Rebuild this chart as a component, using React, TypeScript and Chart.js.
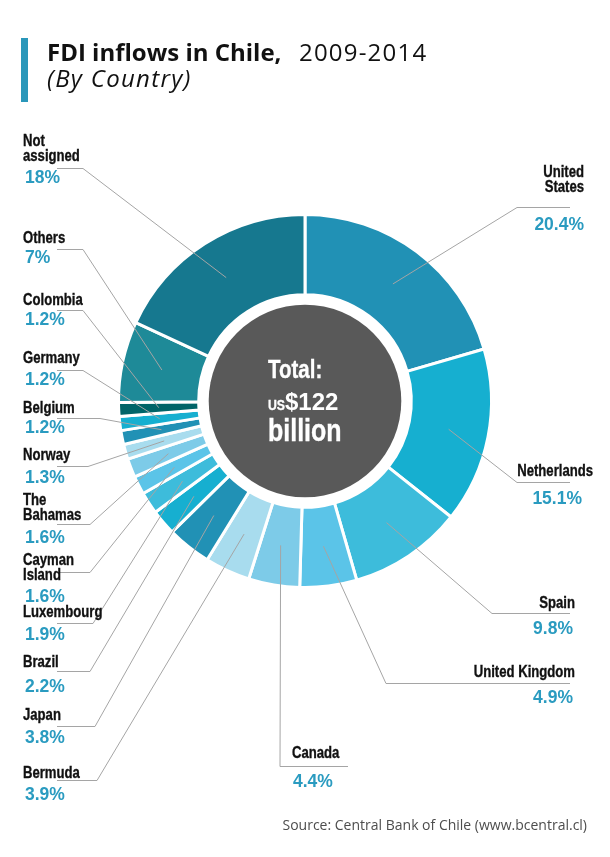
import React, { useEffect, useRef } from "react";
import { Chart, registerables } from "chart.js";

Chart.register(...registerables);

// ---------- data ----------
const countries = [
  "United States", "Netherlands", "Spain", "United Kingdom", "Canada", "Bermuda",
  "Japan", "Brazil", "Luxembourg", "Cayman Island", "The Bahamas", "Norway",
  "Belgium", "Germany", "Colombia", "Others", "Not assigned",
];
const shares = [20.4, 15.1, 9.8, 4.9, 4.4, 3.9, 3.8, 2.2, 1.9, 1.6, 1.6, 1.3, 1.2, 1.2, 1.2, 7, 18];
const nameLines: string[][] = [
  ["United", "States"], ["Netherlands"], ["Spain"], ["United Kingdom"], ["Canada"], ["Bermuda"],
  ["Japan"], ["Brazil"], ["Luxembourg"], ["Cayman", "Island"], ["The", "Bahamas"], ["Norway"],
  ["Belgium"], ["Germany"], ["Colombia"], ["Others"], ["Not", "assigned"],
];
const sliceColors = [
  "#2191b5", "#16afd0", "#3dbcdb", "#5bc4e8", "#7dcbe8", "#a8dcee",
  "#2191b5", "#16afd0", "#3dbcdb", "#5bc4e8", "#7dcbe8", "#a8dcee",
  "#2191b5", "#16afd0", "#006468", "#1e8a98", "#16788f",
];
const titleBold = "FDI inflows in Chile,";
const titleYears = "2009-2014";
const subtitle = "(By Country)";
const totalLabel = "Total:";
const totalCurrency = "US";
const totalAmount = "$122";
const totalUnit = "billion";
const sourceText = "Source: Central Bank of Chile (www.bcentral.cl)";

// ---------- label layout (positions only) ----------
type Lay = { side: "l" | "r" | "c"; tx: number; px: number; nb: number; pb: number; ly: number; lx: number; ex: number };
const layout: Lay[] = [
  { side: "r", tx: 584, px: 584, nb: 177, pb: 230, ly: 207, lx: 570, ex: 517 },
  { side: "r", tx: 593, px: 582, nb: 476, pb: 504, ly: 482, lx: 570, ex: 517 },
  { side: "r", tx: 575, px: 573, nb: 608, pb: 634, ly: 613, lx: 570, ex: 492 },
  { side: "r", tx: 575, px: 573, nb: 677, pb: 703, ly: 683, lx: 570, ex: 386 },
  { side: "c", tx: 292, px: 293, nb: 758, pb: 787, ly: 766, lx: 348, ex: 280 },
  { side: "l", tx: 23, px: 25, nb: 778, pb: 800, ly: 780, lx: 57, ex: 97 },
  { side: "l", tx: 23, px: 25, nb: 720, pb: 743, ly: 726, lx: 57, ex: 95 },
  { side: "l", tx: 23, px: 25, nb: 667, pb: 692, ly: 671, lx: 57, ex: 90 },
  { side: "l", tx: 23, px: 25, nb: 617, pb: 640, ly: 623, lx: 57, ex: 93 },
  { side: "l", tx: 23, px: 25, nb: 565, pb: 602, ly: 572, lx: 57, ex: 90 },
  { side: "l", tx: 23, px: 25, nb: 505, pb: 543, ly: 524, lx: 57, ex: 90 },
  { side: "l", tx: 23, px: 25, nb: 460, pb: 483, ly: 466, lx: 57, ex: 88 },
  { side: "l", tx: 23, px: 25, nb: 413, pb: 433, ly: 418, lx: 57, ex: 100 },
  { side: "l", tx: 23, px: 25, nb: 363, pb: 385, ly: 370, lx: 57, ex: 83 },
  { side: "l", tx: 23, px: 25, nb: 305, pb: 325, ly: 310, lx: 57, ex: 83 },
  { side: "l", tx: 23, px: 25, nb: 243, pb: 263, ly: 249, lx: 57, ex: 83 },
  { side: "l", tx: 23, px: 25, nb: 146, pb: 183, ly: 168, lx: 57, ex: 83 },
];

const W = 610;
const H = 857;
const SANS = "'Liberation Sans', Arial, sans-serif";
const OPEN = "'Open Sans', sans-serif";
const BLUE = "#2a9bc0";

// condensed bold text: Liberation Sans Bold squeezed horizontally
function NText(props: { x: number; y: number; size: number; anchor?: string; fill?: string; sx?: number; children: any }) {
  const { x, y, size, anchor = "start", fill = "#111", sx = 0.82, children } = props;
  return (
    <text
      transform={`translate(${x} ${y}) scale(${sx} 1)`}
      x={0}
      y={0}
      fontFamily={SANS}
      fontWeight={700}
      fontSize={size}
      fill={fill}
      stroke={fill}
      strokeWidth={0.35}
      textAnchor={anchor as any}
    >
      {children}
    </text>
  );
}

const leaderPlugin = {
  id: "leaders",
  afterDatasetsDraw(chart: any) {
    const meta = chart.getDatasetMeta(0);
    const ctx = chart.ctx as CanvasRenderingContext2D;
    const first = meta.data[0].getProps(["x", "y", "innerRadius"], true);
    ctx.save();
    ctx.beginPath();
    ctx.arc(first.x, first.y, first.innerRadius - 10, 0, Math.PI * 2);
    ctx.fillStyle = "#595959";
    ctx.fill();
    ctx.strokeStyle = "#a5a5a5";
    ctx.lineWidth = 1;
    meta.data.forEach((el: any, i: number) => {
      const p = el.getProps(["x", "y", "startAngle", "endAngle", "innerRadius", "outerRadius"], true);
      const a = (p.startAngle + p.endAngle) / 2;
      const r = (p.innerRadius + p.outerRadius) / 2;
      const ax = p.x + r * Math.cos(a);
      const ay = p.y + r * Math.sin(a);
      const L = layout[i];
      ctx.beginPath();
      ctx.moveTo(L.lx, L.ly + 0.5);
      ctx.lineTo(L.ex, L.ly + 0.5);
      ctx.lineTo(ax, ay);
      ctx.stroke();
    });
    ctx.restore();
  },
};

export default function App() {
  const ref = useRef<HTMLCanvasElement | null>(null);
  useEffect(() => {
    if (!ref.current) return;
    const chart = new Chart(ref.current, {
      type: "doughnut",
      data: {
        labels: countries,
        datasets: [
          {
            data: shares,
            backgroundColor: sliceColors,
            borderColor: "#ffffff",
            borderWidth: 3,
          },
        ],
      },
      options: {
        responsive: false,
        animation: false,
        cutout: "57%",
        layout: { padding: { left: 117, right: 117, top: 213, bottom: 268 } },
        plugins: { legend: { display: false }, tooltip: { enabled: false } },
      },
      plugins: [leaderPlugin],
    } as any);
    return () => chart.destroy();
  }, []);

  return (
    <div style={{ position: "absolute", left: 0, top: 0, width: W, height: H, background: "#fff" }}>
      <canvas ref={ref} width={W} height={H} style={{ position: "absolute", left: 0, top: 0, width: W, height: H }} />
      <svg width={W} height={H} style={{ position: "absolute", left: 0, top: 0, pointerEvents: "none" }}>
        <rect x={21} y={38} width={7} height={64} fill="#2a97ba" />
        <text x={47} y={61} fontFamily={OPEN} fontSize={24} fontWeight={700} fill="#111">
          {titleBold}
        </text>
        <text x={299} y={61} fontFamily={OPEN} fontSize={24} fontWeight={400} fill="#111" letterSpacing={1.2}>
          {titleYears}
        </text>
        <text x={47} y={87} fontFamily={OPEN} fontSize={24} fontStyle="italic" fill="#111" letterSpacing={1.3}>
          {subtitle}
        </text>

        {countries.map((c, i) => {
          const L = layout[i];
          const anchor = L.side === "r" ? "end" : "start";
          return (
            <g key={c}>
              {nameLines[i].map((ln, j) => (
                <NText key={j} x={L.tx} y={L.nb + j * 15} size={16} anchor={anchor}>
                  {ln}
                </NText>
              ))}
              <text x={L.px} y={L.pb} fontFamily={SANS} fontWeight={700} fontSize={17.5} fill={BLUE} textAnchor={anchor}>
                {`${shares[i]}%`}
              </text>
            </g>
          );
        })}

        <NText x={268} y={378} size={25} fill="#fff">{totalLabel}</NText>
        <NText x={268} y={410} size={15} fill="#fff">{totalCurrency}</NText>
        <text x={285} y={410} fontFamily={SANS} fontWeight={700} fontSize={24} fill="#fff">{totalAmount}</text>
        <NText x={268} y={441} size={30.5} fill="#fff">{totalUnit}</NText>

        <text x={587} y={830} fontFamily={OPEN} fontSize={14} fill="#4d4d4d" textAnchor="end">
          {sourceText}
        </text>
      </svg>
    </div>
  );
}
